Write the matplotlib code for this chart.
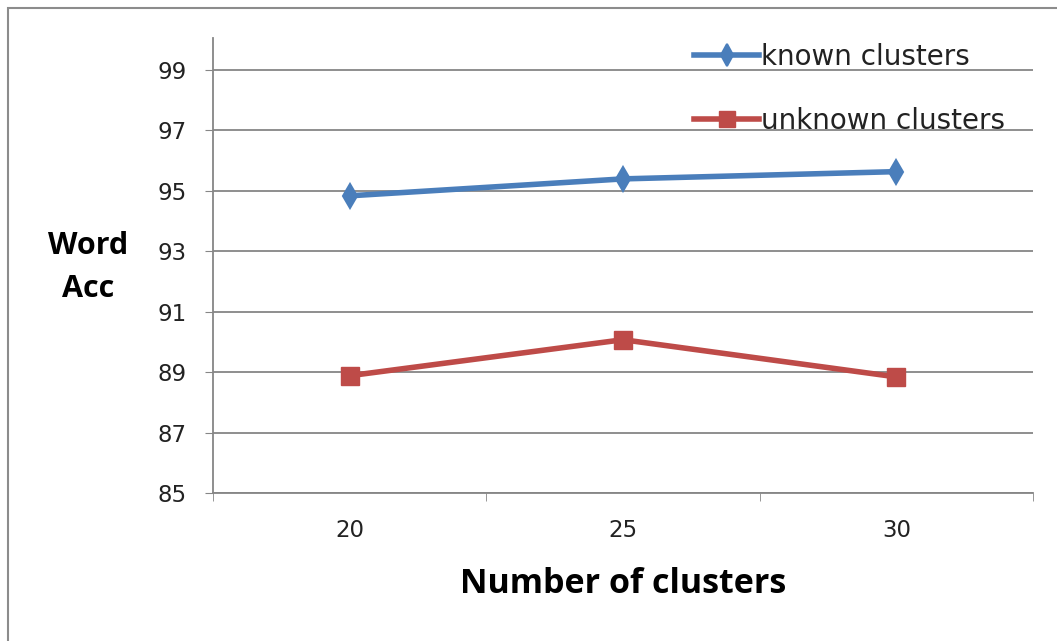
import numpy as np
import matplotlib.pyplot as plt
from matplotlib.patches import Rectangle

plt.rcParams['font.family'] = ['DejaVu Sans']

clusters = ["20", "25", "30"]
known = [94.83, 95.39, 95.63]
unknown = [88.88, 90.07, 88.84]
yticks = [85, 87, 89, 91, 93, 95, 97, 99]

fig = plt.figure(figsize=(10.57, 6.41), dpi=100)
fig.patches.append(Rectangle((0.008, -0.01), 1.2, 0.997, transform=fig.transFigure,
                             fill=False, edgecolor="#8c8c8c", linewidth=1.5))

ax = fig.add_axes([0.2015, 0.2309, 0.7758, 0.7098])
x = np.arange(len(clusters))

ax.plot(x, known, color="#4A7EBB", lw=4, marker="d", ms=12, mew=1.5, label="known clusters", zorder=3)
ax.plot(x, unknown, color="#BE4B48", lw=4, marker="s", ms=13, label="unknown clusters", zorder=3)

ax.set_xlim(-0.5, 2.5)
ax.set_ylim(85, 100.05)
ax.set_yticks(yticks)
ax.set_xticks(x)
ax.set_xticklabels(clusters)
ax.set_xticks([-0.5, 0.5, 1.5, 2.5], minor=True)
ax.tick_params(axis="x", which="major", length=0, pad=19, labelsize=16.5, labelcolor="#222222")
ax.tick_params(axis="x", which="minor", length=6, color="#868686")
ax.tick_params(axis="y", length=6, color="#868686", labelsize=16.5, pad=13, labelcolor="#222222")
ax.grid(axis="y", color="#868686", lw=1.3)
ax.set_axisbelow(True)
for s in ["top", "right"]:
    ax.spines[s].set_visible(False)
for s in ["left", "bottom"]:
    ax.spines[s].set_color("#868686")
    ax.spines[s].set_linewidth(1.3)

ax.set_xlabel("Number of clusters", fontsize=24.5, fontweight="bold", family="Open Sans",
              va="center")
ax.xaxis.set_label_coords(0.5, -0.201)
fig.text(0.083, 0.5827, "Word\nAcc", fontsize=22, fontweight="bold", family="Open Sans",
         ha="center", va="center", linespacing=1.55)

leg = ax.legend(loc="upper left", bbox_to_anchor=(0.556, 1.045), frameon=False, fontsize=20,
                labelspacing=1.31, handlelength=2.35, handletextpad=0.05, markerscale=0.9)
for t in leg.get_texts():
    t.set_color("#222222")

fig.savefig("out.png", dpi=100)
